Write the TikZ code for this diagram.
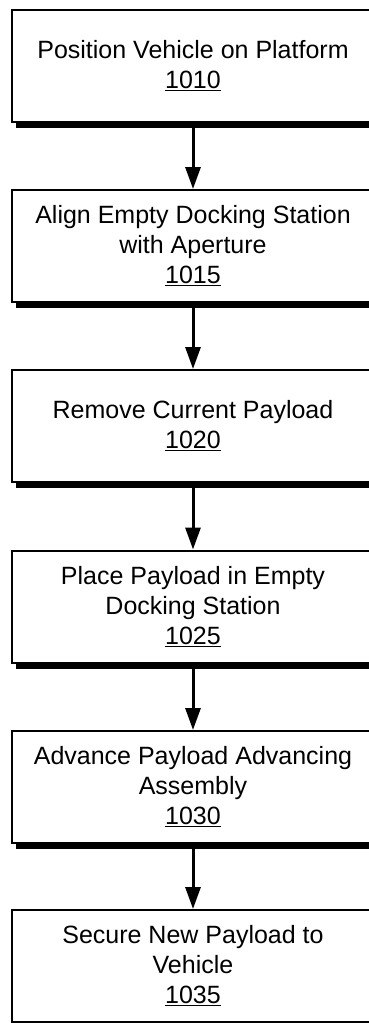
\documentclass[tikz,border=0pt]{standalone}
\usepackage{fontspec}
\setmainfont{Liberation Sans}
\usetikzlibrary{shadows,arrows.meta}
\tikzset{
  stepbox/.style={draw=black, line width=2pt, fill=white, minimum width=362pt, minimum height=112pt,
    align=center, inner sep=0pt, font=\fontsize{25}{30}\selectfont,
    drop shadow={shadow xshift=4pt, shadow yshift=-6pt, fill=black, opacity=1}},
  flow/.style={line width=3pt, -{Triangle[length=22pt, width=15pt]}}
}
\begin{document}
\begin{tikzpicture}[x=1pt,y=-1pt]
\useasboundingbox (0,0) rectangle (369,1023);
\clip (0,0) rectangle (369,1023);
\node[stepbox] (b1) at (193,65.5) {Position Vehicle on Platform\\\underline{1010}};
\node[stepbox] (b2) at (193,246) {Align Empty Docking Station\\with Aperture\\\underline{1015}};
\node[stepbox] (b3) at (193,426) {Remove Current Payload\\\underline{1020}};
\node[stepbox] (b4) at (193,606.5) {Place Payload in Empty\\Docking Station\\\underline{1025}};
\node[stepbox] (b5) at (193,787) {Advance Payload Advancing\\Assembly\\\underline{1030}};
\node[stepbox] (b6) at (193,966) {Secure New Payload to\\Vehicle\\\underline{1035}};
\draw[flow] (b1.south) -- (b2.north);
\draw[flow] (b2.south) -- (b3.north);
\draw[flow] (b3.south) -- (b4.north);
\draw[flow] (b4.south) -- (b5.north);
\draw[flow] (b5.south) -- (b6.north);
\end{tikzpicture}
\end{document}
